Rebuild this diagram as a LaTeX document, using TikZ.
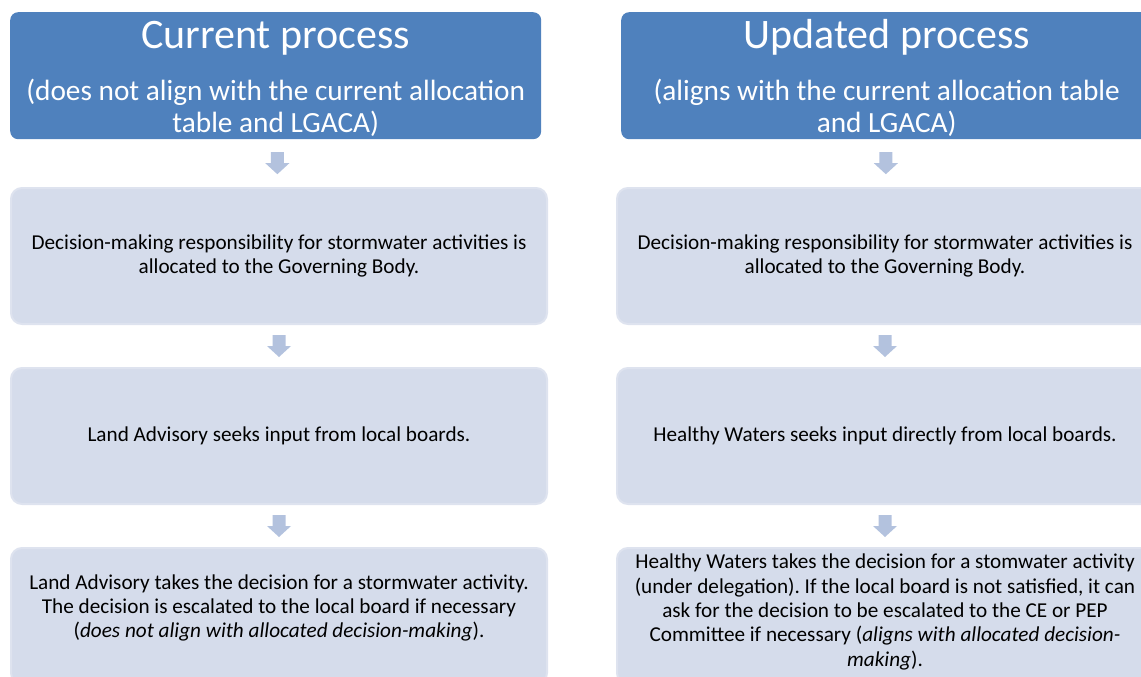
\documentclass[tikz,border=0pt]{standalone}
\usepackage{fontspec}
\setmainfont{Carlito}
\usetikzlibrary{calc}
\frenchspacing
\definecolor{hdrblue}{HTML}{4F81BD}
\definecolor{boxfill}{HTML}{D5DCEB}
\definecolor{boxline}{HTML}{DEE3EF}
\definecolor{arrfill}{HTML}{B3C2DE}
\tikzset{
  hdrbox/.style={rectangle, rounded corners=8pt, fill=hdrblue, draw=none,
    minimum width=531pt, minimum height=127pt, anchor=north west, inner sep=0pt},
  titletxt/.style={text=white, inner sep=0pt, anchor=base, font=\fontsize{42}{50}\selectfont},
  subtxt/.style={text=white, align=center, inner sep=0pt, font=\fontsize{29.3}{31.5}\selectfont},
  stepbox/.style={rectangle, rounded corners=11pt, fill=boxfill, draw=boxline, line width=2pt,
    minimum width=536pt, minimum height=136pt, anchor=north west, inner sep=0pt},
  bodytxt/.style={text=black, align=center, inner sep=0pt,
    font=\fontsize{21.2}{24.3}\selectfont},
  downarrow/.pic={\fill[arrfill] (-6.5pt,11pt) -- (6.5pt,11pt) -- (6.5pt,0pt) -- (12pt,0pt)
     -- (0pt,-11pt) -- (-12pt,0pt) -- (-6.5pt,0pt) -- cycle;}
}
\begin{document}
\begin{tikzpicture}[x=1pt,y=1pt]
\useasboundingbox (0,0) rectangle (1141,-677);
\clip (0,0) rectangle (1141,-677);
% headers
\node[hdrbox] (hl) at (10,-12) {};
\node[hdrbox] (hr) at (621,-12) {};
\node[titletxt] (hlt) at ($(hl.north)+(0,-37)$) {Current process};
\node[titletxt] (hrt) at ($(hr.north)+(0,-37)$) {Updated process};
\node[subtxt] (hls) at ($(hl.north)+(0,-96)$) {(does not align with the current allocation\\table and LGACA)};
\node[subtxt] (hrs) at ($(hr.north)+(0,-96)$) {(aligns with the current allocation table\\and LGACA)};
% left column
\node[stepbox] (l1) at (10,-187) {};
\node[stepbox] (l2) at (10,-367) {};
\node[stepbox] (l3) at (10,-547) {};
\node[bodytxt] (l1t) at (l1.center) {Decision-making responsibility for stormwater activities is\\allocated to the Governing Body.};
\node[bodytxt] (l2t) at (l2.center) {Land Advisory seeks input from local boards.};
\node[bodytxt] (l3t) at ($(l3.center)+(0,8)$) {Land Advisory takes the decision for a stormwater activity.\\The decision is escalated to the local board if necessary\\(\textit{does not align with allocated decision-making}).};
% right column
\node[stepbox] (r1) at (616,-187) {};
\node[stepbox] (r2) at (616,-367) {};
\node[stepbox] (r3) at (616,-547) {};
\node[bodytxt] (r1t) at (r1.center) {Decision-making responsibility for stormwater activities is\\allocated to the Governing Body.};
\node[bodytxt] (r2t) at (r2.center) {Healthy Waters seeks input directly from local boards.};
\node[bodytxt] (r3t) at ($(r3.center)+(0,4)$) {Healthy Waters takes the decision for a stomwater activity\\(under delegation). If the local board is not satisfied, it can\\ask for the decision to be escalated to the CE or PEP\\Committee if necessary (\textit{aligns with allocated decision-}\\\textit{making}).};
% arrows
\pic at ($(hl.south)!0.5!(l1.north)$) {downarrow};
\pic at ($(l1.south)!0.5!(l2.north)$) {downarrow};
\pic at ($(l2.south)!0.5!(l3.north)$) {downarrow};
\pic at ($(hr.south)!0.5!(r1.north)$) {downarrow};
\pic at ($(r1.south)!0.5!(r2.north)$) {downarrow};
\pic at ($(r2.south)!0.5!(r3.north)$) {downarrow};
\end{tikzpicture}
\end{document}
